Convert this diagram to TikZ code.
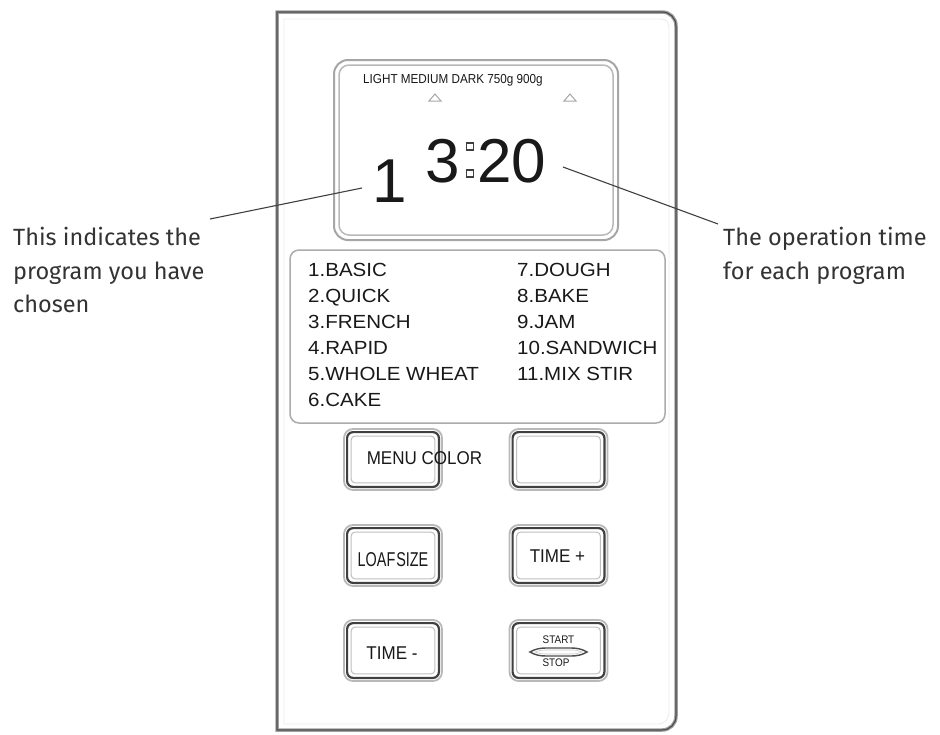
\documentclass[tikz,border=0pt]{standalone}
\usepackage{fontspec}
\setmainfont{Liberation Sans}
\newfontfamily\labelfont{Fira Sans}
\newfontfamily\listfont[FakeStretch=1.08]{Liberation Sans}
\newfontfamily\btnfontfam[FakeStretch=0.92]{Liberation Sans}
\newfontfamily\loaffont[FakeStretch=0.72]{Liberation Sans}
\newfontfamily\narrowfont[FakeStretch=0.9]{Liberation Sans}
\newcommand\pnlbutton[2]{%
  \node[btnouter] (#1) at (#2) {};
  \draw[btnmid] ([shift={(4,4)}]#1.north west) rectangle ([shift={(-4,-4)}]#1.south east);
  \draw[btninner] ([shift={(8,8)}]#1.north west) rectangle ([shift={(-8,-8)}]#1.south east);
}
\begin{document}
\begin{tikzpicture}[x=1pt,y=-1pt,
  btnouter/.style={draw=gray!55, line width=1.8pt, rounded corners=9pt, minimum width=98pt, minimum height=61pt, inner sep=0pt},
  btnmid/.style={draw=black!75, line width=2.2pt, rounded corners=6pt},
  btninner/.style={draw=gray!50, line width=1pt, rounded corners=4pt},
  btntext/.style={font=\btnfontfam\fontsize{18.5}{20}\selectfont, text=black!90, anchor=base, inner sep=0pt},
  smalltext/.style={font=\narrowfont\fontsize{11}{12}\selectfont, text=black!90, anchor=base, inner sep=0pt},
  listtext/.style={font=\listfont\fontsize{19}{26}\selectfont, anchor=base west, inner sep=0pt, text=black!90},
  digit/.style={font=\fontsize{62}{62}\selectfont, anchor=base, inner sep=0pt, text=black!90},
  leader/.style={draw=black!75, line width=1.1pt},
  callout/.style={font=\labelfont\fontsize{23.5}{33.5}\selectfont, align=left, inner sep=0pt, text=black!80, anchor=north west}
]
\useasboundingbox (0,0) rectangle (940,734);
\fill[white] (0,0) rectangle (940,734);

% outer panel
\draw[draw=gray!75, line width=3.5pt]
  (277,730) -- (277,12) -- (662,12) .. controls (670,12) and (676,18) .. (676,26)
  -- (676,716) .. controls (676,724) and (670,730) .. (662,730) -- cycle;
\draw[draw=black!70, line width=1.2pt]
  (277,730) -- (277,12) -- (662,12) .. controls (670,12) and (676,18) .. (676,26)
  -- (676,716) .. controls (676,724) and (670,730) .. (662,730) -- cycle;
\draw[draw=gray!15, line width=0.8pt]
  (284,724) -- (284,19) -- (660,19) .. controls (666,19) and (669,22) .. (669,28)
  -- (669,712) .. controls (669,719) and (665,724) .. (658,724) -- cycle;

% display
\draw[draw=gray!70, line width=2pt, rounded corners=14pt] (334,60) rectangle (618,240);
\draw[draw=gray!55, line width=1.5pt, rounded corners=10pt] (339,65) rectangle (613,235);
\node[font=\narrowfont\fontsize{13}{14}\selectfont, anchor=base west, inner sep=0pt, text=black!90] (modes) at (363,83.5) {LIGHT MEDIUM DARK 750g 900g};
\draw[draw=gray!70, line width=1pt] (429,101) -- (435,94) -- (441,101) -- cycle;
\draw[draw=gray!70, line width=1pt] (564,101) -- (570,94) -- (576,101) -- cycle;
\node[digit] (prog) at (390,202) {1};
\node[digit] (hrs) at (442.5,182) {3};
\node[digit] (mins) at (511.5,182) {20};
\draw[draw=black!75, line width=1.2pt] (466.5,143) rectangle (473.5,150);
\draw[draw=black!75, line width=1.2pt] (466.5,170) rectangle (473.5,177);

% program list
\draw[draw=gray!65, line width=1.5pt, rounded corners=9pt] (290,250) rectangle (665,423);
\node[listtext] (p1) at (308,276) {1.BASIC};
\node[listtext] (p2) at (308,302) {2.QUICK};
\node[listtext] (p3) at (308,328) {3.FRENCH};
\node[listtext] (p4) at (308,354) {4.RAPID};
\node[listtext] (p5) at (308,380) {5.WHOLE WHEAT};
\node[listtext] (p6) at (308,406) {6.CAKE};
\node[listtext] (p7) at (517,276) {7.DOUGH};
\node[listtext] (p8) at (517,302) {8.BAKE};
\node[listtext] (p9) at (517,328) {9.JAM};
\node[listtext] (p10) at (517,354) {10.SANDWICH};
\node[listtext] (p11) at (517,380) {11.MIX STIR};

% buttons
\pnlbutton{menu}{393,459.5}
\pnlbutton{blank}{558.5,459.5}
\pnlbutton{loaf}{393,555.5}
\pnlbutton{tplus}{558.5,555.5}
\pnlbutton{tminus}{393,650.5}
\pnlbutton{startstop}{558.5,650.5}
\node[btntext] (menutxt) at (424.5,464.3) {MENU COLOR};
\node[btntext, font=\loaffont\fontsize{20}{20}\selectfont] (loaftxt) at (393,566.5) {LOAF\hspace{1pt}SIZE};
\node[btntext] (tplustxt) at (557.5,562) {TIME +};
\node[btntext] (tminustxt) at (392,659) {TIME -};
\node[smalltext] (starttxt) at (558.5,643.5) {START};
\node[smalltext] (stoptxt) at (556,666) {STOP};
\draw[draw=black!70, line width=1.4pt, fill=white]
  (530,652) .. controls (535,649) and (540,648) .. (546,648) -- (571,648)
  .. controls (577,648) and (582,649) .. (587,652)
  .. controls (582,655) and (577,656) .. (571,656) -- (546,656)
  .. controls (540,656) and (535,655) .. cycle;
\draw[draw=gray!45, line width=0.6pt]
  (535,652) .. controls (539,650.5) and (542,650) .. (546,650) -- (571,650)
  .. controls (575,650) and (578,650.5) .. (582,652)
  .. controls (578,653.5) and (575,654) .. (571,654) -- (546,654)
  .. controls (542,654) and (539,653.5) .. cycle;

% callouts
\node[callout] (lefttxt) at (13,227) {This indicates the\\program you have\\chosen};
\node[callout] (righttxt) at (723,227) {The operation time\\for each program};
\coordinate (lfree) at (210,219);
\coordinate (lend) at (362,188);
\coordinate (rfree) at (718,224);
\coordinate (rend) at (563,167);
\draw[leader] (lfree) -- (lend);
\draw[leader] (rend) -- (rfree);
\end{tikzpicture}
\end{document}
